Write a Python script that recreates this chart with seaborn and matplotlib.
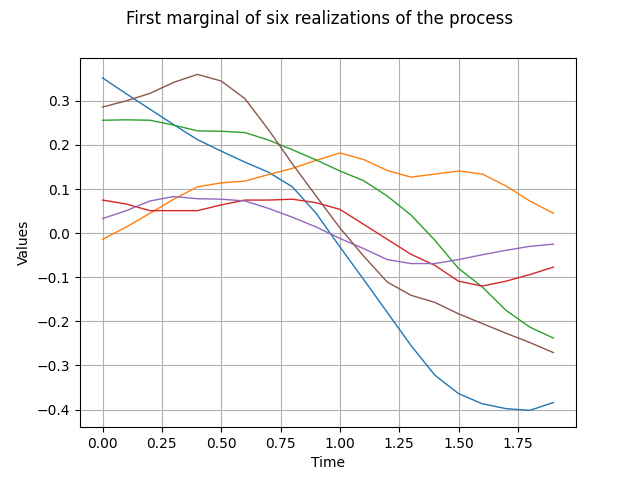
import matplotlib
matplotlib.use("Agg")
import matplotlib.pyplot as plt
import numpy as np
import pandas as pd
import seaborn as sns

# Time grid (20 steps of 0.1)
times = [0.0, 0.1, 0.2, 0.3, 0.4, 0.5, 0.6, 0.7, 0.8, 0.9,
         1.0, 1.1, 1.2, 1.3, 1.4, 1.5, 1.6, 1.7, 1.8, 1.9]

# Values, one list per realization
real_0 = [0.352, 0.316, 0.281, 0.246, 0.212, 0.186, 0.161, 0.138, 0.105, 0.045,
          -0.031, -0.105, -0.180, -0.255, -0.322, -0.364, -0.387, -0.398, -0.402, -0.384]
real_1 = [-0.014, 0.014, 0.045, 0.077, 0.105, 0.114, 0.118, 0.133, 0.147, 0.165,
          0.182, 0.167, 0.142, 0.127, 0.134, 0.141, 0.134, 0.107, 0.073, 0.045]
real_2 = [0.256, 0.257, 0.256, 0.245, 0.232, 0.231, 0.228, 0.211, 0.189, 0.166,
          0.141, 0.119, 0.084, 0.041, -0.016, -0.080, -0.122, -0.175, -0.213, -0.238]
real_3 = [0.075, 0.066, 0.051, 0.051, 0.051, 0.064, 0.075, 0.075, 0.077, 0.069,
          0.054, 0.020, -0.014, -0.048, -0.073, -0.109, -0.120, -0.109, -0.094, -0.077]
real_4 = [0.033, 0.051, 0.073, 0.083, 0.078, 0.077, 0.073, 0.056, 0.036, 0.014,
          -0.012, -0.035, -0.060, -0.069, -0.069, -0.060, -0.049, -0.039, -0.030, -0.025]
real_5 = [0.286, 0.300, 0.317, 0.342, 0.360, 0.345, 0.305, 0.234, 0.157, 0.084,
          0.012, -0.052, -0.111, -0.141, -0.157, -0.183, -0.205, -0.227, -0.248, -0.271]

realizations = [real_0, real_1, real_2, real_3, real_4, real_5]

frames = []
for i, vals in enumerate(realizations):
    frames.append(pd.DataFrame({"Time": times, "Values": vals, "realization": i}))
df = pd.concat(frames, ignore_index=True)

fig, ax = plt.subplots(figsize=(6.4, 4.8), dpi=100)
sns.lineplot(data=df, x="Time", y="Values", hue="realization",
             palette=sns.color_palette("tab10", 6), linewidth=1.0,
             legend=False, ax=ax)
ax.grid(True, color="#b0b0b0", linewidth=0.8)
ax.set_xlabel("Time")
ax.set_ylabel("Values")
fig.suptitle("First marginal of six realizations of the process")

fig.savefig("out.png", dpi=100)
